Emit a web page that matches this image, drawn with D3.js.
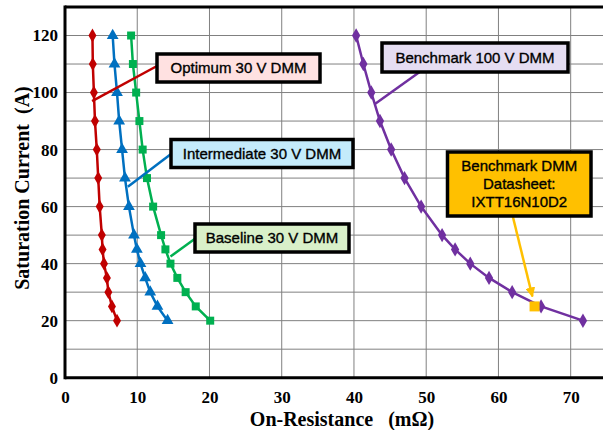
<!DOCTYPE html>
<html>
<head>
<meta charset="utf-8">
<script src="https://cdn.jsdelivr.net/npm/d3@7"></script>
<style>
  body { margin: 0; background: #fff; }
  svg { display: block; }
</style>
</head>
<body>
<script>
// saturation current levels shared by all four curves (A)
var current = [120, 110, 100, 90, 80, 70, 60, 50, 45, 40, 35, 30, 25, 20];

// on-resistance per curve (mOhm)
var optimum      = [3.8, 3.85, 4.0, 4.15, 4.4, 4.6, 4.8, 5.1, 5.2, 5.4, 5.8, 6.0, 6.5, 7.2];
var intermediate = [6.6, 6.85, 7.2, 7.5, 7.9, 8.3, 8.85, 9.55, 9.95, 10.45, 11.1, 11.8, 12.8, 14.2];
var baseline     = [9.15, 9.4, 9.85, 10.3, 10.75, 11.35, 12.2, 13.3, 13.9, 14.6, 15.55, 16.7, 18.1, 20.1];
var benchmark    = [40.3, 41.3, 42.4, 43.6, 45.15, 47.0, 49.3, 52.2, 54.0, 56.1, 58.7, 61.9, 65.9, 71.7];

var datasheetPoint = [65, 25];

var xTicks = [0, 10, 20, 30, 40, 50, 60, 70];
var yTicks = [0, 20, 40, 60, 80, 100, 120];

var W = 603, H = 430;
var svg = d3.select('body').append('svg')
    .attr('width', W)
    .attr('height', H);

var x = d3.scaleLinear().domain([0, 75]).range([65, 606.8]);
var y = d3.scaleLinear().domain([0, 130]).range([377.7, 7]);

// grid
svg.append('g').selectAll('line')
    .data(d3.range(10, 80, 10))
    .join('line')
    .attr('x1', d => x(d)).attr('x2', d => x(d))
    .attr('y1', y(0)).attr('y2', y(130))
    .attr('stroke', '#808080').attr('stroke-width', 1);

svg.append('g').selectAll('line')
    .data(d3.range(10, 130, 10))
    .join('line')
    .attr('x1', x(0)).attr('x2', W)
    .attr('y1', d => y(d)).attr('y2', d => y(d))
    .attr('stroke', '#808080').attr('stroke-width', 1);

// frame
svg.append('line')
    .attr('x1', x(0)).attr('x2', W)
    .attr('y1', y(130)).attr('y2', y(130))
    .attr('stroke', '#000').attr('stroke-width', 3);

// axes
var xAxis = svg.append('g')
    .attr('transform', 'translate(0,' + y(0) + ')')
    .call(d3.axisBottom(x).tickValues(xTicks).tickSize(0).tickPadding(13));
xAxis.select('.domain').remove();

var yAxis = svg.append('g')
    .attr('transform', 'translate(' + x(0) + ',0)')
    .call(d3.axisLeft(y).tickValues(yTicks).tickSize(0).tickPadding(7));
yAxis.select('.domain').remove();

svg.selectAll('.tick text')
    .attr('font-family', '"Liberation Serif", "Times New Roman", serif')
    .attr('font-weight', 'bold')
    .attr('font-size', 17)
    .attr('fill', '#000');

svg.append('line')
    .attr('x1', x(0)).attr('x2', W)
    .attr('y1', y(0)).attr('y2', y(0))
    .attr('stroke', '#000').attr('stroke-width', 3);
svg.append('line')
    .attr('x1', x(0)).attr('x2', x(0))
    .attr('y1', y(0) + 1.5).attr('y2', y(130) - 1.5)
    .attr('stroke', '#000').attr('stroke-width', 3);

// axis titles
svg.append('text')
    .attr('x', 342).attr('y', 426)
    .attr('text-anchor', 'middle')
    .attr('font-family', '"Liberation Serif", "Times New Roman", serif')
    .attr('font-weight', 'bold')
    .attr('font-size', 20)
    .attr('xml:space', 'preserve')
    .text('On-Resistance   (mΩ)');

svg.append('text')
    .attr('transform', 'translate(29,188) rotate(-90)')
    .attr('text-anchor', 'middle')
    .attr('font-family', '"Liberation Serif", "Times New Roman", serif')
    .attr('font-weight', 'bold')
    .attr('font-size', 20)
    .attr('xml:space', 'preserve')
    .text('Saturation Current  (A)');

// curves
var series = [
  {vals: optimum, color: '#C00000', shape: d3.symbolDiamond, size: 55},
  {vals: intermediate, color: '#0070C0', shape: d3.symbolTriangle, size: 60},
  {vals: baseline, color: '#00B050', shape: d3.symbolSquare, size: 64},
  {vals: benchmark, color: '#7030A0', shape: d3.symbolDiamond, size: 60}
];

var line = d3.line()
    .x(d => x(d[0]))
    .y(d => y(d[1]));

series.forEach(function(s) {
  var pts = s.vals.map((v, i) => [v, current[i]]);
  svg.append('path')
      .datum(pts)
      .attr('d', line)
      .attr('fill', 'none')
      .attr('stroke', s.color)
      .attr('stroke-width', 2.5);
  svg.append('g').selectAll('path')
      .data(pts)
      .join('path')
      .attr('transform', d => 'translate(' + x(d[0]) + ',' + y(d[1]) + ')')
      .attr('d', d3.symbol().type(s.shape).size(s.size))
      .attr('fill', s.color);
});

// datasheet point
svg.append('rect')
    .attr('x', x(datasheetPoint[0]) - 5)
    .attr('y', y(datasheetPoint[1]) - 5)
    .attr('width', 10).attr('height', 10)
    .attr('fill', '#FFC000');

// callouts
function callout(box, lines, fill, color, from, to) {
  svg.append('line')
      .attr('x1', from[0]).attr('y1', from[1])
      .attr('x2', to[0]).attr('y2', to[1])
      .attr('stroke', color).attr('stroke-width', 2.5);
  svg.append('rect')
      .attr('x', box[0]).attr('y', box[1])
      .attr('width', box[2]).attr('height', box[3])
      .attr('fill', fill)
      .attr('stroke', '#000').attr('stroke-width', 3.5);
  var cx = box[0] + box[2] / 2;
  var t0 = box[1] + box[3] / 2 - (lines.length - 1) * 9;
  lines.forEach(function(l, i) {
    svg.append('text')
        .attr('x', cx).attr('y', t0 + i * 18)
        .attr('dy', '0.35em')
        .attr('text-anchor', 'middle')
        .attr('font-family', '"Liberation Sans", Arial, sans-serif')
        .attr('font-size', 15)
        .attr('fill', '#000')
        .attr('stroke', '#000').attr('stroke-width', 0.35)
        .text(l);
  });
}

callout([157, 54, 163, 28], ['Optimum 30 V DMM'], '#FFE1E1', '#C00000',
        [157, 66], [x(3.75), y(97)]);
callout([171, 139.5, 182, 28], ['Intermediate 30 V DMM'], '#C4EBFB', '#0070C0',
        [171, 154], [x(8.7), y(67)]);
callout([195, 224, 154, 28], ['Baseline 30 V DMM'], '#D9F0C9', '#00B050',
        [196, 238], [x(14.6), y(42.5)]);
callout([382, 43, 186, 29], ['Benchmark 100 V DMM'], '#E5DDF2', '#7030A0',
        [421, 71], [x(42.9), y(96)]);

// datasheet callout with arrow
svg.append('defs').append('marker')
    .attr('id', 'arr')
    .attr('viewBox', '0 0 10 10')
    .attr('refX', 9).attr('refY', 5)
    .attr('markerWidth', 4).attr('markerHeight', 4)
    .attr('orient', 'auto')
    .append('path')
    .attr('d', 'M0,0 L10,5 L0,10 z')
    .attr('fill', '#FFC000');
svg.append('line')
    .attr('x1', 512.7).attr('y1', 216)
    .attr('x2', x(64.7)).attr('y2', y(28.5))
    .attr('stroke', '#FFC000').attr('stroke-width', 2.5)
    .attr('marker-end', 'url(#arr)');
callout([447.5, 152, 143.5, 64], ['Benchmark DMM', 'Datasheet:', 'IXTT16N10D2'], '#FFC000', '#FFC000',
        [512.7, 216], [512.7, 216]);
</script>
</body>
</html>
